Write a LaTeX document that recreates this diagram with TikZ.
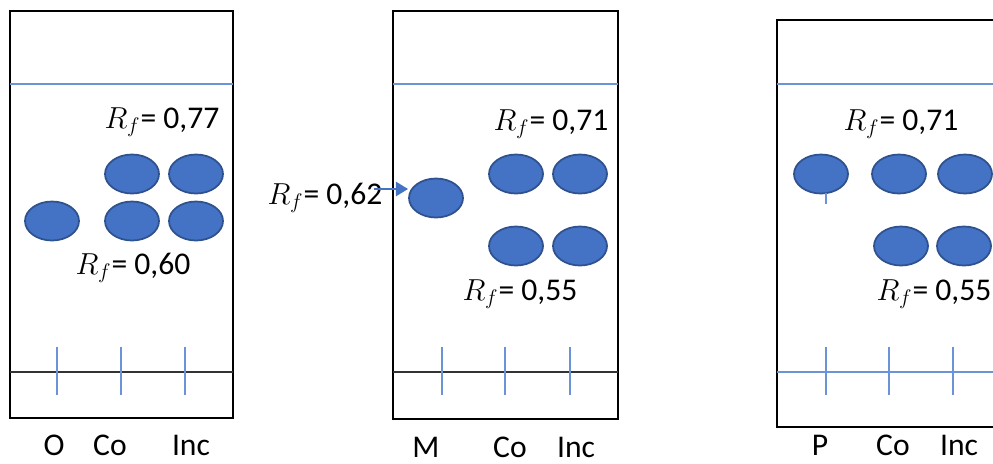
\documentclass[tikz,border=0pt]{standalone}
\usepackage{fontspec}
\setmainfont{Carlito}
\usetikzlibrary{shapes.geometric, arrows.meta, positioning}
\definecolor{spotblue}{HTML}{4472C4}
\definecolor{spotedge}{HTML}{2F528F}
\definecolor{lineblue}{HTML}{6A93D8}

\begin{document}
\begin{tikzpicture}[
    x=0.02cm, y=-0.02cm,
    every node/.style={font=\fontsize{18}{21}\selectfont},
    >={Triangle[length=7pt, width=8pt]},
    plate/.style={draw=black, line width=1.4pt},
    front/.style={draw=lineblue, line width=0.8pt},
    baseline/.style={draw=#1, line width=0.7pt},
    tickline/.style={draw=lineblue, line width=0.8pt},
    spot/.style={ellipse, draw=spotedge, line width=1pt, fill=spotblue,
                 minimum width=1.08cm, minimum height=0.78cm, inner sep=0pt},
    rf/.style={inner sep=0pt},
    lane/.style={inner sep=0pt},
]

\useasboundingbox (0,0) rectangle (993,463);
\clip (0,0) rectangle (993,463);

% === PLATE 1: O / Co / Inc ===
\draw[plate] (10,11) rectangle (233,418);
\draw[front] (10,84) -- (233,84);
\draw[baseline=black!80] (10,372) -- (233,372);
\foreach \x in {57, 121, 185} {
    \draw[tickline] (\x,347) -- (\x,395);
}
\node[spot] (o1)  at (52,221) {};
\node[spot] (co1) at (132,174) {};
\node[spot] (in1) at (196,174) {};
\node[spot] (co2) at (132,221) {};
\node[spot] (in2) at (196,221) {};
\node[rf] (rf77) at (162,122) {$R_f$= 0,77};
\node[rf] (rf60) at (133,268) {$R_f$= 0,60};
\node[lane] (lo)  at (54,445) {O};
\node[lane] (lco) at (110,445) {Co};
\node[lane] (lin) at (191,445) {Inc};

% === PLATE 2: M / Co / Inc ===
\draw[plate] (393,11) rectangle (618,419);
\draw[front] (393,84) -- (618,84);
\draw[baseline=black!80] (393,372) -- (618,372);
\foreach \x in {442, 505, 570} {
    \draw[tickline] (\x,347) -- (\x,395);
}
\node[spot] (m1)  at (436,198) {};
\node[spot] (co3) at (516,174) {};
\node[spot] (in3) at (580,174) {};
\node[spot] (co4) at (516,246) {};
\node[spot] (in4) at (580,246) {};
\node[rf] (rf71a) at (551,124) {$R_f$= 0,71};
\node[rf] (rf62)  at (325,198) {$R_f$= 0,62};
\node[rf] (rf55a) at (520,294) {$R_f$= 0,55};
\draw[->, spotblue, line width=1.6pt, shorten <=-5pt] (rf62.east |- 0,189) -- (m1.west |- 0,189);
\node[lane] (lm)   at (426,447) {M};
\node[lane] (lco2) at (510,447) {Co};
\node[lane] (lin2) at (576,447) {Inc};

% === PLATE 3: P / Co / Inc ===
\draw[plate] (777,20) rectangle (1010,427);
\draw[front] (777,84) -- (993,84);
\draw[baseline=lineblue] (777,372) -- (993,372);
\foreach \x in {826, 889, 953} {
    \draw[tickline] (\x,347) -- (\x,395);
}
\node[spot] (p1)  at (821,174) {};
\node[spot] (co5) at (899,174) {};
\node[spot] (in5) at (965,174) {};
\node[spot] (co6) at (901,246) {};
\node[spot] (in6) at (964,246) {};
\draw[tickline] (826,193) -- (826,204);
\node[rf] (rf71b) at (901,124) {$R_f$= 0,71};
\node[rf] (rf55b) at (934,294) {$R_f$= 0,55};
\node[lane] (lp)   at (820,445) {P};
\node[lane] (lco3) at (893,445) {Co};
\node[lane] (lin3) at (959,445) {Inc};

\end{tikzpicture}
\end{document}
